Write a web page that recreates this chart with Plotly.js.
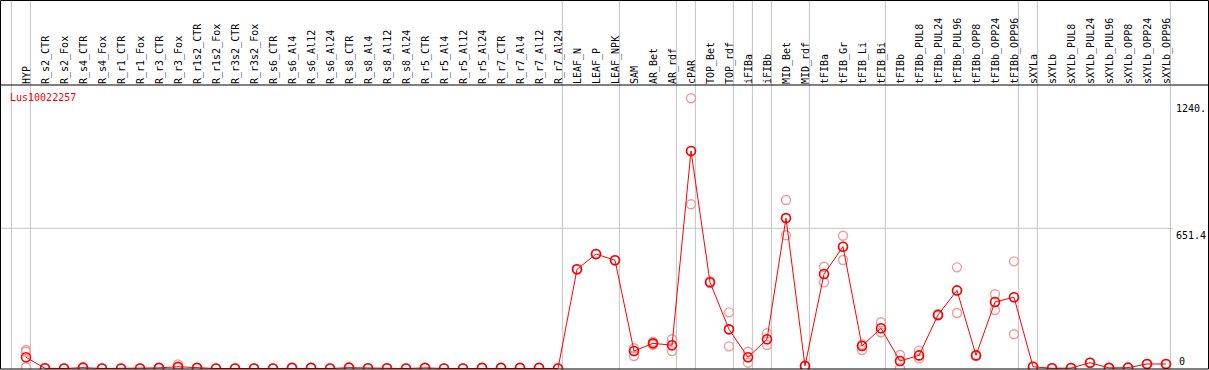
<!DOCTYPE html>
<html>
<head>
<meta charset="utf-8">
<script src="https://cdn.plot.ly/plotly-3.0.1.min.js"></script>
<style>html,body{margin:0;padding:0;background:#fff;}#chart{width:1209px;height:370px;}</style>
</head>
<body>
<div id="chart"></div>
<script>
// ---- data ----
const geneName = "Lus10022257";
const categories = ["HYP","R_s2_CTR","R_s2_Fox","R_s4_CTR","R_s4_Fox","R_r1_CTR","R_r1_Fox","R_r3_CTR","R_r3_Fox","R_r1s2_CTR","R_r1s2_Fox","R_r3s2_CTR","R_r3s2_Fox","R_s6_CTR","R_s6_Al4","R_s6_Al12","R_s6_Al24","R_s8_CTR","R_s8_Al4","R_s8_Al12","R_s8_Al24","R_r5_CTR","R_r5_Al4","R_r5_Al12","R_r5_Al24","R_r7_CTR","R_r7_Al4","R_r7_Al12","R_r7_Al24","LEAF_N","LEAF_P","LEAF_NPK","SAM","AR_Bet","AR_rdf","cPAR","TOP_Bet","TOP_rdf","iFIBa","iFIBb","MID_Bet","MID_rdf","tFIBa","tFIB_Gr","tFIB_Li","tFIB_Bi","tFIBb","tFIBb_PUL8","tFIBb_PUL24","tFIBb_PUL96","tFIBb_OPP8","tFIBb_OPP24","tFIBb_OPP96","sXYLa","sXYLb","sXYLb_PUL8","sXYLb_PUL24","sXYLb_PUL96","sXYLb_OPP8","sXYLb_OPP24","sXYLb_OPP96"];
const meanValues = [52,1,0,4,0,0,0,3,8,3,0,0,0,0,3,3,0,4,1,1,0,3,0,0,3,3,3,3,0,461,532,503,81,117,108,1011,401,182,52,136,699,12,439,566,105,187,35,61,249,363,61,309,331,8,1,2,27,3,4,21,21];
const replicateA = [86,1,0,6,0,0,0,3,19,3,0,0,0,0,3,3,0,5,1,1,0,3,0,0,3,3,3,3,0,461,532,503,94,124,136,1256,405,261,78,164,783,14,473,617,86,215,63,83,252,470,63,345,498,8,1,2,27,3,4,21,21];
const replicateB = [6,1,0,2,0,0,0,3,2,3,0,0,0,0,3,3,0,3,1,1,0,3,0,0,3,3,3,3,0,461,532,503,58,110,81,763,397,103,27,109,619,10,401,504,112,168,2,47,246,258,59,272,159,8,1,2,27,3,4,21,21];
const replicateC = [78,1,0,4,0,0,0,3,6,3,0,0,0,0,3,3,0,4,1,1,0,3,0,0,3,3,3,3,0,461,532,503,81,117,108,1011,401,182,52,136,699,12,439,566,105,187,35,61,249,363,61,309,331,8,1,2,27,3,4,21,21];
// last category of each group (vertical separators drawn after them); first separator precedes HYP
const groupLast = ["HYP","R_r7_Al24","LEAF_NPK","AR_rdf","cPAR","TOP_rdf","iFIBa","iFIBb","MID_rdf","tFIB_Bi","tFIBb_OPP96","sXYLa","sXYLb_OPP96"];
const yTickVals = [651.4, 1240];
const yTickText = ["651.4", "1240."];
const yZeroVal = [0];
const yZeroText = ["0"];

// ---- layout constants ----
const W = 1209, H = 370;
const M = {l: 1, r: 36, t: 85, b: 1};
const plotH = H - M.t - M.b;
const plotW = W - M.l - M.r;
const sepOffset = 0.23;
const xRange = [-1.316, 60.368];
const yRange = [-2.3, 1317.4];
const mono = "DejaVu Sans Mono, monospace";

const idx = categories.map((c, i) => i);
const repX = idx.concat(idx, idx);
const repY = replicateA.concat(replicateB, replicateC);

const traces = [
  {x: repX, y: repY, type: "scatter", mode: "markers", yaxis: "y",
   marker: {symbol: "circle-open", size: 9, color: "#f29a9a", line: {width: 1.4, color: "#f29a9a"}},
   hoverinfo: "skip", showlegend: false, cliponaxis: true},
  {x: idx, y: meanValues, type: "scatter", mode: "lines+markers", yaxis: "y2",
   line: {color: "#ff0000", width: 1},
   marker: {symbol: "circle-open", size: 9, color: "#ff0000", line: {width: 1.6, color: "#ff0000"}},
   showlegend: false, cliponaxis: true}
];

const sepPositions = [-1].concat(groupLast.map(n => categories.indexOf(n)));
const topPaper = 1 + (M.t - 0.5) / plotH;
const shapes = sepPositions.map(p => ({
  type: "line", xref: "x", yref: "paper", x0: p + sepOffset, x1: p + sepOffset,
  y0: 0, y1: topPaper + 0.01, line: {color: "#c4c4c4", width: 1}, layer: "below"
}));
shapes.push({type: "line", xref: "paper", yref: "y", x0: 0, x1: 1, y0: yTickVals[0], y1: yTickVals[0],
  line: {color: "#c4c4c4", width: 1}, layer: "below"});
const leftP = (0.5 - M.l) / plotW, rightP = (W - 0.5 - M.l) / plotW;
// frame
shapes.push({type: "rect", xref: "paper", yref: "paper", x0: leftP, x1: rightP, y0: 0, y1: topPaper,
  line: {color: "#000", width: 1}, fillcolor: "rgba(0,0,0,0)"});
shapes.push({type: "line", xref: "paper", yref: "paper", x0: leftP, x1: rightP, y0: 1, y1: 1,
  line: {color: "#000", width: 1}});

const layout = {
  width: W, height: H, margin: M,
  paper_bgcolor: "#fff", plot_bgcolor: "#fff",
  showlegend: false,
  title: {text: geneName, font: {family: mono, size: 10, color: "#ff0000"},
          x: 10 / W, xref: "container", xanchor: "left", y: 1 - 97 / H, yref: "container", yanchor: "middle"},
  xaxis: {range: xRange, side: "top", tickmode: "array", tickvals: idx, ticktext: categories,
          tickangle: -90, ticklabelshift: 1, showgrid: false, zeroline: false, showline: false, ticks: "",
          tickfont: {family: mono, size: 10, color: "#000"}, fixedrange: true},
  yaxis: {range: yRange, side: "right", tickmode: "array", tickvals: yTickVals, ticktext: yTickText,
          ticklabelposition: "outside bottom", ticklabelstandoff: 2, showgrid: false, zeroline: false, showline: false, ticks: "",
          tickfont: {family: mono, size: 10, color: "#000"}, fixedrange: true},
  yaxis2: {range: yRange, overlaying: "y", side: "right", tickmode: "array", tickvals: yZeroVal, ticktext: yZeroText,
          ticklabelposition: "outside top", ticklabelstandoff: 5, showgrid: false, zeroline: false, showline: false, ticks: "",
          tickfont: {family: mono, size: 10, color: "#000"}, fixedrange: true},
  shapes: shapes
};

Plotly.newPlot("chart", traces, layout, {staticPlot: true, displayModeBar: false});
</script>
</body>
</html>
